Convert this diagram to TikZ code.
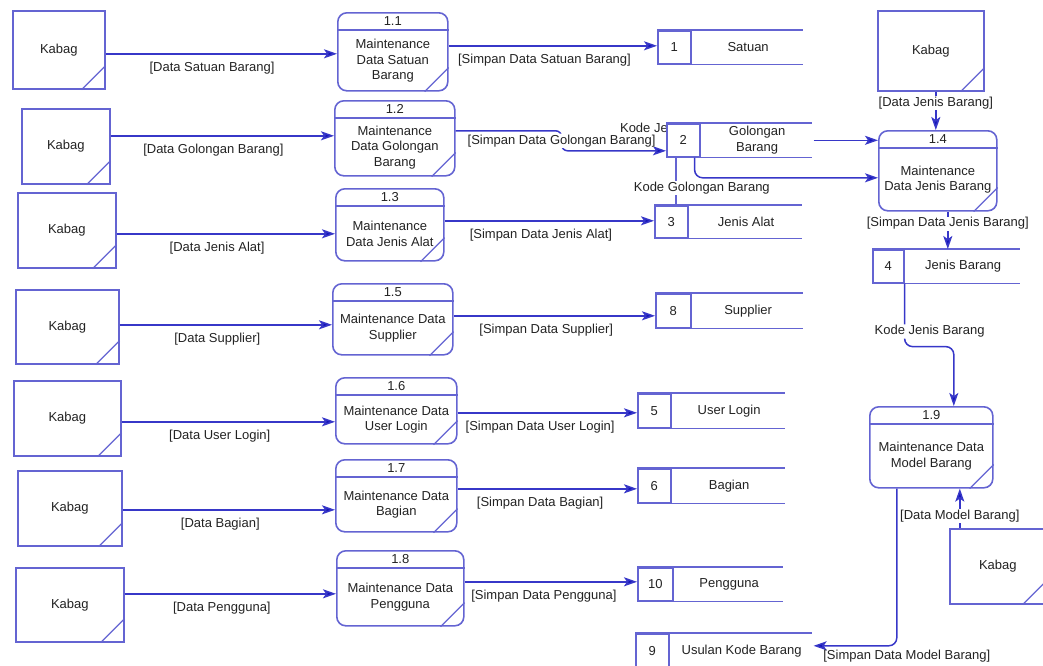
\documentclass[tikz,border=0pt]{standalone}
\usepackage{fontspec}
\setmainfont{Liberation Sans}
\usetikzlibrary{arrows.meta}
\definecolor{garis}{RGB}{100,100,210}
\definecolor{panah}{RGB}{55,55,200}
\definecolor{ujung}{RGB}{20,20,185}
\definecolor{teks}{RGB}{35,35,35}
\begin{document}
\begin{tikzpicture}[x=1pt, y=-1pt,
		every node/.style={text=teks, font=\fontsize{13}{15.5}\selectfont, align=center},
		kabag/.style={draw=garis, line width=1.6pt, fill=white, anchor=north west},
		proses/.style={draw=garis, line width=1.6pt, rounded corners=9pt, anchor=north west},
		simpan/.style={draw=garis, line width=1.6pt, fill=white, anchor=north west},
		alir/.style={draw=panah, line width=1.5pt, -{Stealth[length=13pt, width=9pt, inset=3pt, fill=ujung]}},
		ket/.style={fill=white, inner sep=1pt}]
	\useasboundingbox (0,0) rectangle (1043,665);
	\node (kodeje) at (675,129) {Kode Jenis Barang};
	\foreach \nama/\x/\y/\w/\h in {e1/12/10/92/78, e2/21/108/88/75, e3/17/192/98/75, e4/15/289/103/74, e5/13/380/107/75, e6/17/470/104/75, e7/15/567/108/74, e8/877/10/106/80, e9/949/528/96/75} {
		\node[kabag, minimum width=\w pt, minimum height=\h pt] (\nama) at (\x,\y) {Kabag};
		\draw[garis, line width=1.2pt] ([xshift=-24pt]\nama.south east) -- ([yshift=24pt]\nama.south east);
	}
	\foreach \nama/\x/\y/\w/\h/\nomor/\isi in {p11/337/12/110/78/1.1/{Maintenance\\Data Satuan\\Barang}, p12/334/100/120/75/1.2/{Maintenance\\Data Golongan\\Barang}, p13/335/188/108/72/1.3/{Maintenance\\Data Jenis Alat}, p15/332/283/120/71/1.5/{Maintenance Data\\Supplier}, p16/335/377/121/66/1.6/{Maintenance Data\\User Login}, p17/335/459/121/72/1.7/{Maintenance Data\\Bagian}, p18/336/550/127/75/1.8/{Maintenance Data\\Pengguna}, p14/878/130/118/80/1.4/{Maintenance\\Data Jenis Barang}, p19/869/406/123/81/1.9/{Maintenance Data\\Model Barang}} {
		\node[proses, minimum width=\w pt, minimum height=\h pt] (\nama) at (\x,\y) {};
		\draw[garis, line width=1.6pt] ([yshift=-18pt]\nama.north west) -- ([yshift=-18pt]\nama.north east);
		\node at ([yshift=-9pt]\nama.north) {\nomor};
		\path ([yshift=-18pt]\nama.north) -- (\nama.south) node[midway] {\isi};
		\draw[garis, line width=1.2pt] ([xshift=-24pt]\nama.south east) -- ([yshift=24pt]\nama.south east);
	}
	\foreach \nama/\x/\y/\d/\w/\h/\nomor/\isi in {s1/657/30/33/146/33/1/Satuan, s2/666/123/33/146/33/2/{Golongan\\Barang}, s3/654/205/33/148/32/3/Jenis Alat, s4/872/249/31/148/33/4/Jenis Barang, s8/655/293/35/148/34/8/Supplier, s5/637/393/33/148/34/5/User Login, s6/637/468/33/148/34/6/Bagian, s10/637/567/35/146/33/10/Pengguna, s9/635/633/33/177/34/9/Usulan Kode Barang} {
		\fill[white] (\x,\y) rectangle ++(\w,\h);
		\node[simpan, minimum width=\d pt, minimum height=\h pt] (\nama) at (\x,\y) {\nomor};
		\draw[garis, line width=1.6pt] (\nama.north west) -- ++(\w,0);
		\draw[garis, line width=1.6pt] (\nama.south west) -- ++(\w,0);
		\path (\nama.east) -- ++({\w-\d},0) coordinate (\nama-e) node[midway] {\isi};
	}
	\foreach \dari/\ke/\geser/\isi in {e1/p11/-4/{[Data Satuan Barang]}, e2/p12/10.5/{[Data Golongan Barang]}, e3/p13/-3.5/{[Data Jenis Alat]}, e4/p15/2/{[Data Supplier]}, e5/p16/-3.5/{[Data User Login]}, e6/p17/-1.5/{[Data Bagian]}, e7/p18/11/{[Data Pengguna]}, p11/s1/6/{[Simpan Data Satuan Barang]}, p13/s3/4/{[Simpan Data Jenis Alat]}, p15/s8/3.5/{[Simpan Data Supplier]}, p16/s5/-2/{[Simpan Data User Login]}, p17/s6/7/{[Simpan Data Bagian]}, p18/s10/6.5/{[Simpan Data Pengguna]}}
		\draw[alir] ([yshift=\geser pt]\dari.east) -- ([yshift=\geser pt]\dari.east -| \ke.west) node[pos=0.46, below=4pt] {\isi};
	\draw[alir, rounded corners=6pt] ([yshift=7.5pt]p12.east) -- ++(106,0) |- ([yshift=-10.5pt]s2.west) node[pos=0.25, ket] {[Simpan Data Golongan Barang]};
	\draw[alir] (s2-e) -- (s2-e -| p14.west);
	\draw[alir, rounded corners=8pt] ([xshift=-6pt]s2.south east) |- ([yshift=-7pt]p14.west);
	\draw[garis, line width=1.4pt] ([xshift=-7.5pt]s2.south) -- ([xshift=-7.5pt]s2.south |- s3.north) node[pos=0.65, ket, xshift=26pt] {Kode Golongan Barang};
	\draw[alir] ([xshift=5pt]e8.south) -- ([xshift=5pt]e8.south |- p14.north) node[pos=0.3, ket] {[Data Jenis Barang]};
	\draw[alir] ([xshift=10pt]p14.south) -- ([xshift=10pt]p14.south |- s4.north) node[pos=0.32, ket] {[Simpan Data Jenis Barang]};
	\draw[alir, rounded corners=8pt] (s4.south east) -- ++(0,63) node[pos=0.76, ket, xshift=25pt] {Kode Jenis Barang} -| ([xshift=22.5pt]p19.north);
	\draw[alir] ([xshift=28.5pt]p19.south |- e9.north) -- ([xshift=28.5pt]p19.south) node[pos=0.3, ket] {[Data Model Barang]};
	\draw[alir, rounded corners=8pt] ([xshift=-34.5pt]p19.south) |- ([yshift=5pt]s9-e) node[pos=0.5, below=0pt, xshift=10pt] {[Simpan Data Model Barang]};
\end{tikzpicture}
\end{document}
